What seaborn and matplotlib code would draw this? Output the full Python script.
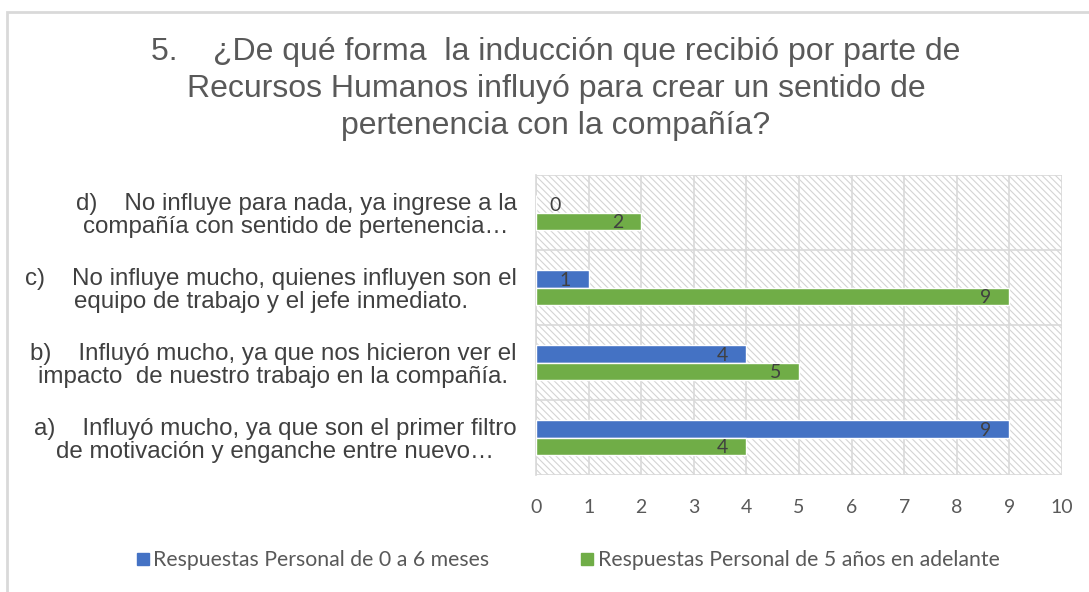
import matplotlib
matplotlib.use("Agg")
import matplotlib.pyplot as plt
from matplotlib.patches import Rectangle
from matplotlib.lines import Line2D
import seaborn as sns
import pandas as pd

categories = [
    "d)    No influye para nada, ya ingrese a la\ncompañía con sentido de pertenencia…",
    "c)    No influye mucho, quienes influyen son el\nequipo de trabajo y el jefe inmediato.",
    "b)    Influyó mucho, ya que nos hicieron ver el\nimpacto  de nuestro trabajo en la compañía.",
    "a)    Influyó mucho, ya que son el primer filtro\nde motivación y enganche entre nuevo…",
]
series_names = ["Respuestas Personal de 0 a 6 meses",
                "Respuestas Personal de 5 años en adelante"]
values_0_6 = [0, 1, 4, 9]
values_5 = [2, 9, 5, 4]
x_ticks = list(range(0, 11))
title = ("5.    ¿De qué forma  la inducción que recibió por parte de\n"
         "Recursos Humanos influyó para crear un sentido de\n"
         "pertenencia con la compañía?")

colors = ["#4472C4", "#70AD47"]

df = pd.DataFrame({
    "categoria": categories * 2,
    "serie": [series_names[0]] * 4 + [series_names[1]] * 4,
    "valor": values_0_6 + values_5,
})

sns.set_theme(style="white")
plt.rcParams["font.family"] = ["Liberation Sans", "DejaVu Sans"]
plt.rcParams["hatch.linewidth"] = 0.8

fig = plt.figure(figsize=(10.89, 5.92), dpi=100)
ax = fig.add_axes([536 / 1089, 1 - 475 / 592, 526 / 1089, 300 / 592])

# hatched background
bg = Rectangle((0, 0), 1, 1, transform=ax.transAxes, facecolor="white",
               edgecolor="#d4d4d4", hatch="\\" * 5, lw=0, zorder=0)
ax.add_patch(bg)

sns.barplot(data=df, y="categoria", x="valor", hue="serie", order=categories,
            hue_order=series_names, palette=colors, orient="h", width=0.46,
            saturation=1, ax=ax, legend=False, zorder=3)

ax.set_xlim(0, 10)
ax.set_ylim(len(categories) - 0.5, -0.5)
ax.set_xticks(x_ticks)
ax.set_xticklabels([str(t) for t in x_ticks], fontfamily="Lato", fontsize=14,
                   color="#595959")
ax.tick_params(axis="x", length=0, pad=17)

# category boundaries as major ticks, labels on minor ticks
ax.set_yticks([i - 0.5 for i in range(len(categories) + 1)])
ax.set_yticklabels([])
ax.set_yticks(range(len(categories)), minor=True)
ax.set_yticklabels(categories, minor=True, fontsize=17.4, color="#404040",
                   multialignment="center", linespacing=1.05)
ax.tick_params(axis="y", which="major", length=12, color="#d9d9d9", width=1.2)
ax.tick_params(axis="y", which="minor", length=0, pad=14)

ax.grid(True, axis="both", which="major", color="#d9d9d9", lw=1.2, zorder=1)
ax.set_axisbelow(True)
for s in ["top", "right", "bottom"]:
    ax.spines[s].set_visible(False)
ax.spines["left"].set_color("#d9d9d9")
ax.spines["left"].set_linewidth(1.2)
ax.set_xlabel("")
ax.set_ylabel("")

# data labels
for cont in ax.containers:
    for bar in cont:
        w = bar.get_width()
        yc = bar.get_y() + bar.get_height() / 2
        if w > 0:
            ax.annotate(f"{int(w)}", (w, yc), xytext=(-13, -1),
                        textcoords="offset points", ha="right", va="center",
                        fontfamily="Lato", fontsize=14, color="#404040", zorder=5)
        else:
            ax.annotate(f"{int(w)}", (w, yc), xytext=(14, -1),
                        textcoords="offset points", ha="center", va="center",
                        fontfamily="Lato", fontsize=14, color="#404040", zorder=5)

fig.text(556 / 1089, 1 - 89 / 592, title, ha="center", va="center",
         fontsize=23, color="#595959", linespacing=1.3)

handles = [Line2D([], [], marker="s", ls="", color=c, markersize=8) for c in colors]
fig.legend(handles, series_names, loc="center", bbox_to_anchor=(567 / 1089, 1 - 560 / 592),
           ncol=2, frameon=False, columnspacing=4.2, handletextpad=0.1,
           prop={"family": "Lato", "size": 15.3}, labelcolor="#595959",
           handlelength=0.8)

# outer frame (top and left visible)
frame = Rectangle((7 / 1089, -0.1), 1.2, 1 - 12 / 592 + 0.1, transform=fig.transFigure,
                  facecolor="none", edgecolor="#d9d9d9", lw=2, zorder=-1)
fig.add_artist(frame)

fig.savefig("out.png", dpi=100)
